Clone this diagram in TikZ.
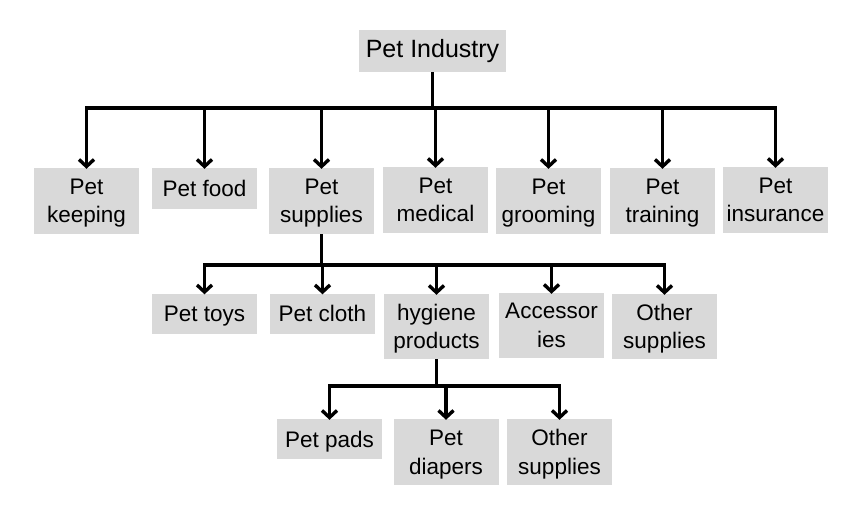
\documentclass[tikz,border=0pt]{standalone}
\usepackage{fontspec}
\setmainfont{Liberation Sans}
\usetikzlibrary{arrows.meta}
\definecolor{boxgray}{HTML}{D9D9D9}
\begin{document}
\begin{tikzpicture}[x=1pt,y=-1pt,
  box/.style={fill=boxgray, draw=none, minimum width=105pt, inner sep=0pt, align=center,
    font=\fontsize{22.5}{28.5}\selectfont},
  onebox/.style={box, minimum height=41pt, text depth=0pt},
  twobox/.style={box, minimum height=66pt, text depth=0pt},
  link/.style={line width=3.6pt, draw=black},
  arr/.style={link, -{Straight Barb[length=7pt,width=15pt,line width=3.4pt]}, shorten >=-1pt},
]
\useasboundingbox (0,0) rectangle (864,523);
% root
\node[box, minimum width=147pt, minimum height=42pt, font=\fontsize{25}{28}\selectfont] (root) at (432.5,51) {Pet Industry};
% level 1
\node[twobox] (keeping) at (86.5,201) {Pet\\keeping};
\node[onebox] (food) at (204.5,188.5) {Pet food};
\node[twobox] (supplies) at (321.5,201) {Pet\\supplies};
\node[twobox] (medical) at (435.5,200) {Pet\\medical};
\node[twobox] (grooming) at (548.5,201) {Pet\\grooming};
\node[twobox] (training) at (662.5,201) {Pet\\training};
\node[twobox] (insurance) at (775.5,200) {Pet\\insurance};
% level 2
\node[onebox, minimum height=40pt] (toys) at (204.5,313.5) {Pet toys};
\node[onebox, minimum height=40pt] (cloth) at (322.5,313.5) {Pet cloth};
\node[twobox, minimum height=65pt] (hygiene) at (436.5,326.5) {hygiene\\products};
\node[twobox, minimum height=65pt] (access) at (551.5,325.5) {Accessor\\ies};
\node[twobox, minimum height=65pt] (othersup) at (664.5,326.5) {Other\\supplies};
% level 3
\node[onebox, minimum height=40pt] (pads) at (329.5,439) {Pet pads};
\node[twobox] (diapers) at (446,452) {Pet\\diapers};
\node[twobox] (othersup3) at (559.5,452) {Other\\supplies};
% bus coordinates
\coordinate (busA) at (0,108);
\coordinate (busB) at (0,265);
\coordinate (busC) at (0,386);
% connectors level 1
\foreach \n in {keeping,food,supplies,medical,grooming,training,insurance}
  \draw[arr] (root.south) -- (busA -| root.south) -| (\n.north);
% connectors level 2
\foreach \n in {toys,cloth,hygiene,access,othersup}
  \draw[arr] (supplies.south) -- (busB -| supplies.south) -| (\n.north);
% connectors level 3
\foreach \n in {pads,diapers,othersup3}
  \draw[arr] (hygiene.south) -- (busC -| hygiene.south) -| (\n.north);
\end{tikzpicture}
\end{document}
